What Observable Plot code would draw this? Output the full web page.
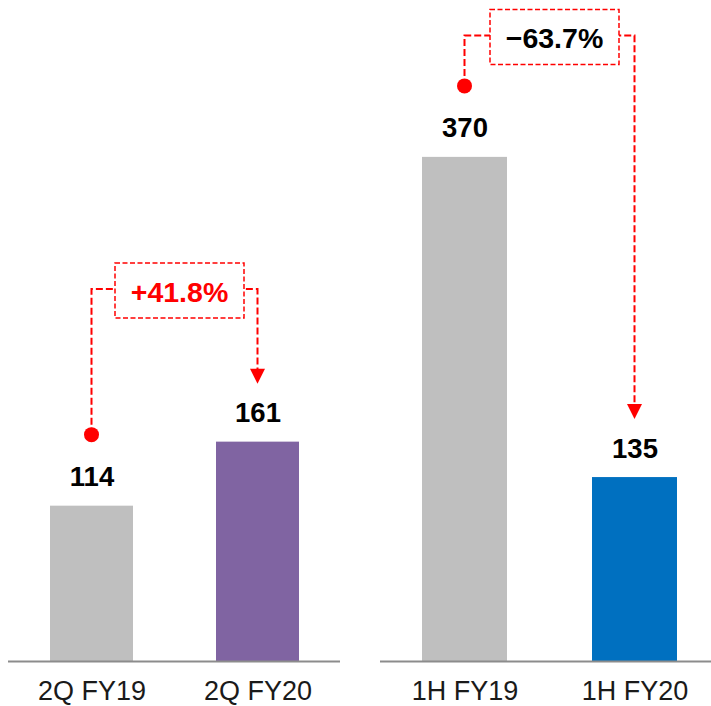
<!DOCTYPE html>
<html>
<head>
<meta charset="utf-8">
<script src="https://cdn.jsdelivr.net/npm/d3@7"></script>
<script src="https://cdn.jsdelivr.net/npm/@observablehq/plot@0.6"></script>
<style>
  html, body { margin: 0; padding: 0; background: #fff; overflow: hidden; }
  #wrap { display: flex; width: 711px; height: 706px; }
  #wrap svg { display: block; }
</style>
</head>
<body>
<div id="wrap"></div>
<script>
// ---- data ----
const leftCategories = ["2Q FY19", "2Q FY20"];
const leftValues = [114, 161];
const leftColors = ["#bfbfbf", "#8064a2"];

const rightCategories = ["1H FY19", "1H FY20"];
const rightValues = [370, 135];
const rightColors = ["#bfbfbf", "#0070c0"];

const changeLabels = ["+41.8%", "\u221263.7%"];
const changeColors = ["#ff0000", "#000000"];
const bracketLevels = [273, 459]; // height of the dashed bracket, in chart units

// ---- layout / style ----
const Y_MAX = 480;
const RED = "#ff0000";
const FONT = "'Liberation Sans', Arial, Helvetica, sans-serif";

function annotationMark(ann) {
  return (index, scales) => {
    const x = scales.x, y = scales.y;
    const bw = x.bandwidth ? x.bandwidth() : 0;
    const x1 = x(ann.from) + bw / 2;
    const x2 = x(ann.to) + bw / 2;
    const yDot = y(ann.fromValue) - 71;
    const yTip = y(ann.toValue) - 58;
    const yLevel = y(ann.level);
    const cx = (x1 + x2) / 2 + 5;
    const ns = "http://www.w3.org/2000/svg";
    const g = document.createElementNS(ns, "g");
    const el = (tag, attrs) => {
      const e = document.createElementNS(ns, tag);
      for (const k in attrs) e.setAttribute(k, attrs[k]);
      g.appendChild(e);
      return e;
    };
    el("path", {d: `M${x1},${yDot}V${yLevel}H${x2}V${yTip - 14}`, fill: "none", stroke: RED,
      "stroke-width": 2, "stroke-dasharray": "7,3"});
    el("circle", {cx: x1, cy: yDot, r: 7.5, fill: RED});
    el("path", {d: `M${x2 - 7.5},${yTip - 15}L${x2 + 7.5},${yTip - 15}L${x2},${yTip}Z`, fill: RED});
    el("rect", {x: cx - 64.5, y: yLevel - 26, width: 129, height: 55, fill: "#fff", stroke: RED,
      "stroke-width": 1.5, "stroke-dasharray": "5,2.5"});
    const t = el("text", {x: cx, y: yLevel + 12.5, "text-anchor": "middle", "font-size": 28.5,
      "font-weight": "bold", fill: ann.color, "font-family": FONT});
    t.textContent = ann.label;
    return g;
  };
}

function panel(cats, vals, colors, ann, opts) {
  const data = cats.map((c, i) => ({cat: c, value: vals[i], color: colors[i]}));
  return Plot.plot({
    width: opts.width,
    height: 706,
    marginLeft: opts.marginLeft,
    marginRight: opts.marginRight,
    marginTop: 7,
    marginBottom: 45,
    style: {fontFamily: FONT, fontSize: "27px", color: "#1a1a1a", background: "#fff", overflow: "visible"},
    x: {domain: cats, paddingInner: 0.5, paddingOuter: opts.paddingOuter, align: opts.align,
        label: null, tickSize: 0, tickPadding: 19},
    y: {domain: [0, Y_MAX], axis: null},
    color: {type: "identity"},
    marks: [
      Plot.barY(data, {x: "cat", y: "value", fill: "color"}),
      Plot.ruleY([0], {stroke: "#8c8c8c", strokeWidth: 2}),
      Plot.text(data, {x: "cat", y: "value", text: d => String(d.value), dy: -20, lineAnchor: "bottom",
        fontSize: 27.5, fontWeight: "bold", fill: "#000"}),
      annotationMark(ann)
    ]
  });
}

const wrap = document.getElementById("wrap");
wrap.appendChild(panel(leftCategories, leftValues, leftColors, {
  from: leftCategories[0], to: leftCategories[1],
  fromValue: leftValues[0], toValue: leftValues[1],
  level: bracketLevels[0], label: changeLabels[0], color: changeColors[0]
}, {width: 360, marginLeft: 8, marginRight: 20, paddingOuter: 0.25, align: 0.5}));

wrap.appendChild(panel(rightCategories, rightValues, rightColors, {
  from: rightCategories[0], to: rightCategories[1],
  fromValue: rightValues[0], toValue: rightValues[1],
  level: bracketLevels[1], label: changeLabels[1], color: changeColors[1]
}, {width: 351, marginLeft: 20, marginRight: 0, paddingOuter: 0.2235, align: 0.553}));
</script>
</body>
</html>
